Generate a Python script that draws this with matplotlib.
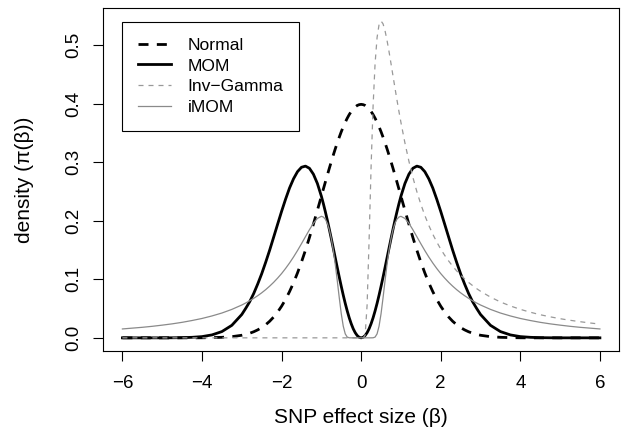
import matplotlib
matplotlib.use('Agg')
import matplotlib.pyplot as plt

plt.rcParams['font.family'] = ['Liberation Sans', 'DejaVu Sans']

# effect size grid (finer near zero where the curves change fast)
beta = [-6.0, -5.75, -5.5, -5.25, -5.0, -4.75, -4.5, -4.25, -4.0, -3.75, -3.5, -3.25,
        -3.0, -2.9, -2.8, -2.7, -2.6, -2.5, -2.4, -2.3, -2.2, -2.1,
        -2.0, -1.9, -1.8, -1.7, -1.6, -1.5, -1.4, -1.3, -1.2, -1.1,
        -1.0, -0.95, -0.9, -0.85, -0.8, -0.75, -0.7, -0.65, -0.6, -0.55,
        -0.5, -0.45, -0.4, -0.35, -0.3, -0.25, -0.2, -0.15, -0.1, -0.05,
        0.0,
        0.05, 0.1, 0.15, 0.2, 0.25, 0.3, 0.35, 0.4, 0.45, 0.5,
        0.55, 0.6, 0.65, 0.7, 0.75, 0.8, 0.85, 0.9, 0.95, 1.0,
        1.1, 1.2, 1.3, 1.4, 1.5, 1.6, 1.7, 1.8, 1.9, 2.0,
        2.1, 2.2, 2.3, 2.4, 2.5, 2.6, 2.7, 2.8, 2.9, 3.0,
        3.25, 3.5, 3.75, 4.0, 4.25, 4.5, 4.75, 5.0, 5.25, 5.5, 5.75, 6.0]

normal = [0.0, 0.0, 0.0, 0.0, 0.0, 0.0, 0.0, 0.0, 0.0001, 0.0004, 0.0009, 0.0020,
          0.0044, 0.0060, 0.0079, 0.0104, 0.0136, 0.0175, 0.0224, 0.0283, 0.0355, 0.0440,
          0.0540, 0.0656, 0.0790, 0.0940, 0.1109, 0.1295, 0.1497, 0.1714, 0.1942, 0.2179,
          0.2420, 0.2541, 0.2661, 0.2780, 0.2897, 0.3011, 0.3123, 0.3230, 0.3332, 0.3429,
          0.3521, 0.3605, 0.3683, 0.3752, 0.3814, 0.3867, 0.3910, 0.3945, 0.3970, 0.3984,
          0.3989,
          0.3984, 0.3970, 0.3945, 0.3910, 0.3867, 0.3814, 0.3752, 0.3683, 0.3605, 0.3521,
          0.3429, 0.3332, 0.3230, 0.3123, 0.3011, 0.2897, 0.2780, 0.2661, 0.2541, 0.2420,
          0.2179, 0.1942, 0.1714, 0.1497, 0.1295, 0.1109, 0.0940, 0.0790, 0.0656, 0.0540,
          0.0440, 0.0355, 0.0283, 0.0224, 0.0175, 0.0136, 0.0104, 0.0079, 0.0060, 0.0044,
          0.0020, 0.0009, 0.0004, 0.0001, 0.0, 0.0, 0.0, 0.0, 0.0, 0.0, 0.0, 0.0]

mom = [0.0, 0.0, 0.0, 0.0, 0.0, 0.0001, 0.0003, 0.0009, 0.0021, 0.0050, 0.0107, 0.0214,
       0.0399, 0.0505, 0.0619, 0.0758, 0.0919, 0.1094, 0.1290, 0.1497, 0.1718, 0.1940,
       0.2160, 0.2368, 0.2560, 0.2717, 0.2839, 0.2914, 0.2934, 0.2897, 0.2796, 0.2637,
       0.2420, 0.2293, 0.2155, 0.2009, 0.1854, 0.1694, 0.1530, 0.1365, 0.1200, 0.1037,
       0.0880, 0.0730, 0.0589, 0.0460, 0.0343, 0.0242, 0.0156, 0.0089, 0.0040, 0.0010,
       0.0,
       0.0010, 0.0040, 0.0089, 0.0156, 0.0242, 0.0343, 0.0460, 0.0589, 0.0730, 0.0880,
       0.1037, 0.1200, 0.1365, 0.1530, 0.1694, 0.1854, 0.2009, 0.2155, 0.2293, 0.2420,
       0.2637, 0.2796, 0.2897, 0.2934, 0.2914, 0.2839, 0.2717, 0.2560, 0.2368, 0.2160,
       0.1940, 0.1718, 0.1497, 0.1290, 0.1094, 0.0919, 0.0758, 0.0619, 0.0505, 0.0399,
       0.0214, 0.0107, 0.0050, 0.0021, 0.0009, 0.0003, 0.0001, 0.0, 0.0, 0.0, 0.0, 0.0]

inv_gamma = [0.0, 0.0, 0.0, 0.0, 0.0, 0.0, 0.0, 0.0, 0.0, 0.0, 0.0, 0.0,
             0.0, 0.0, 0.0, 0.0, 0.0, 0.0, 0.0, 0.0, 0.0, 0.0,
             0.0, 0.0, 0.0, 0.0, 0.0, 0.0, 0.0, 0.0, 0.0, 0.0,
             0.0, 0.0, 0.0, 0.0, 0.0, 0.0, 0.0, 0.0, 0.0, 0.0,
             0.0, 0.0, 0.0, 0.0, 0.0, 0.0, 0.0, 0.0, 0.0, 0.0,
             0.0,
             0.0, 0.0045, 0.0566, 0.1684, 0.2931, 0.3963, 0.4688, 0.5130, 0.5354, 0.5413,
             0.5365, 0.5247, 0.5082, 0.4892, 0.4686, 0.4476, 0.4268, 0.4064, 0.3867, 0.3679,
             0.3330, 0.3018, 0.2742, 0.2497, 0.2282, 0.2091, 0.1921, 0.1771, 0.1637, 0.1516,
             0.1409, 0.1312, 0.1224, 0.1144, 0.1073, 0.1007, 0.0947, 0.0893, 0.0842, 0.0796,
             0.0696, 0.0613, 0.0545, 0.0487, 0.0438, 0.0395, 0.0359, 0.0327, 0.0300, 0.0276, 0.0254, 0.0235]

imom = [0.0152, 0.0166, 0.0180, 0.0197, 0.0217, 0.0239, 0.0265, 0.0296, 0.0331, 0.0374, 0.0424, 0.0486,
        0.0561, 0.0596, 0.0634, 0.0675, 0.0720, 0.0769, 0.0823, 0.0883, 0.0948, 0.1020,
        0.1098, 0.1185, 0.1279, 0.1381, 0.1491, 0.1608, 0.1728, 0.1847, 0.1957, 0.2040,
        0.2076, 0.2064, 0.2027, 0.1957, 0.1848, 0.1695, 0.1496, 0.1252, 0.0975, 0.0684,
        0.0413, 0.0200, 0.0068, 0.0013, 0.0001, 0.0, 0.0, 0.0, 0.0, 0.0,
        0.0,
        0.0, 0.0, 0.0, 0.0, 0.0, 0.0001, 0.0013, 0.0068, 0.0200, 0.0413,
        0.0684, 0.0975, 0.1252, 0.1496, 0.1695, 0.1848, 0.1957, 0.2027, 0.2064, 0.2076,
        0.2040, 0.1957, 0.1847, 0.1728, 0.1608, 0.1491, 0.1381, 0.1279, 0.1185, 0.1098,
        0.1020, 0.0948, 0.0883, 0.0823, 0.0769, 0.0720, 0.0675, 0.0634, 0.0596, 0.0561,
        0.0486, 0.0424, 0.0374, 0.0331, 0.0296, 0.0265, 0.0239, 0.0217, 0.0197, 0.0180, 0.0166, 0.0152]

labels = ['Normal', 'MOM', 'Inv\u2212Gamma', 'iMOM']
x_ticks = [-6, -4, -2, 0, 2, 4, 6]
y_ticks = [0.0, 0.1, 0.2, 0.3, 0.4, 0.5]
y_tick_labels = ['0.0', '0.1', '0.2', '0.3', '0.4', '0.5']

fig = plt.figure(figsize=(6.25, 4.33), dpi=100)
ax = fig.add_axes([0.1653, 0.1905, 0.8251, 0.7903])

ax.plot(beta, normal, color='black', lw=2.0, dashes=(3.6, 3.0), label=labels[0])
ax.plot(beta, mom, color='black', lw=2.0, label=labels[1])
ax.plot(beta, inv_gamma, color='#999999', lw=0.9, dashes=(4, 4), label=labels[2])
ax.plot(beta, imom, color='#8a8a8a', lw=0.9, label=labels[3])

ax.set_xlim(-6.48, 6.48)
ax.set_ylim(-0.02165, 0.5630)
ax.set_xticks(x_ticks)
ax.set_xticklabels(['\u2212' + str(-t) if t < 0 else str(t) for t in x_ticks])
ax.set_yticks(y_ticks)
ax.set_yticklabels(y_tick_labels, rotation=90, va='center')
ax.tick_params(direction='out', length=7.5, width=0.8, labelsize=13.5)
ax.tick_params(axis='x', pad=10)
ax.tick_params(axis='y', pad=8)

for s in ax.spines.values():
    s.set_linewidth(0.8)

ax.set_xlabel('SNP effect size (\u03b2)', fontsize=15, va='center')
ax.set_ylabel('density (\u03c0(\u03b2))', fontsize=15, va='center')
ax.xaxis.set_label_coords(0.5, -0.197)
ax.yaxis.set_label_coords(-0.152, 0.5)

leg = ax.legend(loc='upper left', bbox_to_anchor=(0.0368, 0.9608), borderaxespad=0,
                fontsize=12.6, handlelength=1.9, handletextpad=0.94, labelspacing=0.32,
                borderpad=0.9, fancybox=False, framealpha=1)
leg.get_frame().set_edgecolor('black')
leg.get_frame().set_linewidth(0.8)

fig.savefig('out.png', dpi=100)
